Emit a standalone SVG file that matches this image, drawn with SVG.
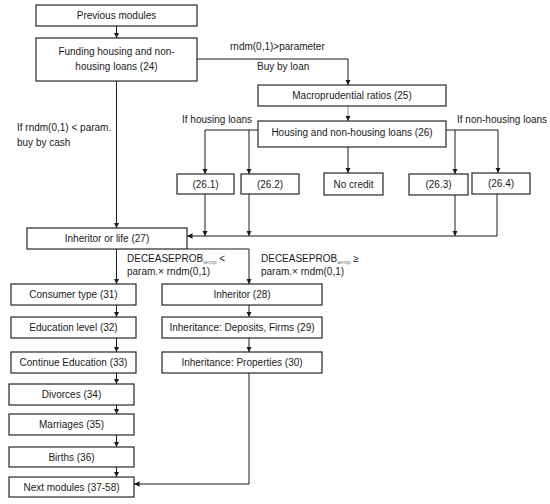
<svg xmlns="http://www.w3.org/2000/svg" width="550" height="504" viewBox="0 0 550 504">
<style>
.box{fill:#fff;stroke:#262626;stroke-width:1.2}
.t{font-family:"Liberation Sans",Arial,sans-serif;font-size:10px;fill:#1a1a1a}
.c{text-anchor:middle}
.ln{fill:none;stroke:#1a1a1a;stroke-width:1}
.sub{font-size:6px;fill:#777}
</style>
<defs>
<marker id="ah" viewBox="0 0 10 10" refX="10" refY="5" markerWidth="5.5" markerHeight="5.5" orient="auto" markerUnits="userSpaceOnUse">
<path d="M0,0 L10,5 L0,10 z" fill="#1a1a1a"/>
</marker>
</defs>
<rect width="550" height="504" fill="#fff"/>
<g id="connectors">
<path class="ln" d="M116.5,26 V38" marker-end="url(#ah)"/>
<path class="ln" d="M197,59 H348 V85" marker-end="url(#ah)"/>
<path class="ln" d="M348,106 V121" stroke="#888" marker-end="url(#ah)" style="stroke:#888"/>
<path class="ln" d="M348,147 V173" marker-end="url(#ah)"/>
<path class="ln" d="M258,130 H205 V174" marker-end="url(#ah)"/>
<path class="ln" d="M249,130 V174" marker-end="url(#ah)"/>
<path class="ln" d="M446,130 H498 V173" marker-end="url(#ah)"/>
<path class="ln" d="M455,130 V174" marker-end="url(#ah)"/>
<path class="ln" d="M205,194 V236" marker-end="url(#ah)"/>
<path class="ln" d="M249,194 V236" marker-end="url(#ah)"/>
<path class="ln" d="M455,195 V236" marker-end="url(#ah)"/>
<path class="ln" d="M497,194 V236 H187" marker-end="url(#ah)"/>
<path class="ln" d="M116.5,81 V228" marker-end="url(#ah)"/>
<path class="ln" d="M116.5,249 V284" marker-end="url(#ah)"/>
<path class="ln" d="M187,249 H249 V284" marker-end="url(#ah)"/>
<path class="ln" d="M116.5,305 V317" marker-end="url(#ah)"/>
<path class="ln" d="M116.5,338 V352" marker-end="url(#ah)"/>
<path class="ln" d="M116.5,373 V384" marker-end="url(#ah)"/>
<path class="ln" d="M116.5,405 V414" marker-end="url(#ah)"/>
<path class="ln" d="M116.5,435 V447" marker-end="url(#ah)"/>
<path class="ln" d="M116.5,467 V477" marker-end="url(#ah)"/>
<path class="ln" d="M249,305 V317" marker-end="url(#ah)"/>
<path class="ln" d="M249,338 V352" marker-end="url(#ah)"/>
<path class="ln" d="M249,373 V484 H134" marker-end="url(#ah)"/>
</g>
<g id="labels">
<text class="t" x="230" y="49.5">rndm(0,1)&gt;parameter</text>
<text class="t" x="257" y="69.5">Buy by loan</text>
<text class="t" x="182" y="122.5">If housing loans</text>
<text class="t" x="457" y="122.5">If non-housing loans</text>
<text class="t" x="17" y="130.5">If rndm(0,1) &lt; param.</text>
<text class="t" x="17" y="145.5">buy by cash</text>
<text class="t" x="127" y="261.5">DECEASEPROB<tspan class="sub" dy="2">temp</tspan><tspan dy="-2"> &lt;</tspan></text>
<text class="t" x="127" y="274.5">param.× rndm(0,1)</text>
<text class="t" x="261" y="261.5">DECEASEPROB<tspan class="sub" dy="2">temp</tspan><tspan dy="-2"> ≥</tspan></text>
<text class="t" x="261" y="274.5">param.× rndm(0,1)</text>
</g>
<g id="n_prev"><rect class="box" x="36" y="5" width="161" height="21"/><text class="t c" x="116.5" y="19">Previous modules</text></g>
<g id="n24"><rect class="box" x="36" y="38" width="161" height="43"/><text class="t c" x="116.5" y="54.5">Funding housing and non-</text><text class="t c" x="116.5" y="69.5">housing loans (24)</text></g>
<g id="n25"><rect class="box" x="258" y="85" width="188" height="21"/><text class="t c" x="352" y="99">Macroprudential ratios (25)</text></g>
<g id="n26"><rect class="box" x="258" y="121" width="188" height="26"/><text class="t c" x="352" y="136">Housing and non-housing loans (26)</text></g>
<g id="n26_1"><rect class="box" x="177" y="174" width="57" height="20"/><text class="t c" x="205.5" y="187.5">(26.1)</text></g>
<g id="n26_2"><rect class="box" x="241" y="174" width="58" height="20"/><text class="t c" x="270" y="187.5">(26.2)</text></g>
<g id="n_nocredit"><rect class="box" x="324" y="173" width="59" height="22"/><text class="t c" x="353.5" y="187.5">No credit</text></g>
<g id="n26_3"><rect class="box" x="409" y="174" width="59" height="21"/><text class="t c" x="438.5" y="188">(26.3)</text></g>
<g id="n26_4"><rect class="box" x="472" y="173" width="58" height="21"/><text class="t c" x="501" y="187">(26.4)</text></g>
<g id="n27"><rect class="box" x="27" y="228" width="160" height="21"/><text class="t c" x="107" y="242">Inheritor or life (27)</text></g>
<g id="n31"><rect class="box" x="11" y="284" width="125" height="21"/><text class="t c" x="73.5" y="298">Consumer type (31)</text></g>
<g id="n32"><rect class="box" x="11" y="317" width="125" height="21"/><text class="t c" x="73.5" y="331">Education level (32)</text></g>
<g id="n33"><rect class="box" x="11" y="352" width="125" height="21"/><text class="t c" x="73.5" y="366">Continue Education (33)</text></g>
<g id="n34"><rect class="box" x="9" y="384" width="125" height="21"/><text class="t c" x="71.5" y="398">Divorces (34)</text></g>
<g id="n35"><rect class="box" x="9" y="414" width="125" height="21"/><text class="t c" x="71.5" y="428">Marriages (35)</text></g>
<g id="n36"><rect class="box" x="9" y="447" width="125" height="20"/><text class="t c" x="71.5" y="460.5">Births (36)</text></g>
<g id="n_next"><rect class="box" x="9" y="477" width="125" height="20"/><text class="t c" x="71.5" y="490.5">Next modules (37-58)</text></g>
<g id="n28"><rect class="box" x="162" y="284" width="160" height="21"/><text class="t c" x="242" y="298">Inheritor (28)</text></g>
<g id="n29"><rect class="box" x="162" y="317" width="160" height="21"/><text class="t c" x="242" y="331">Inheritance: Deposits, Firms (29)</text></g>
<g id="n30"><rect class="box" x="162" y="352" width="160" height="21"/><text class="t c" x="242" y="366">Inheritance: Properties (30)</text></g>
</svg>
